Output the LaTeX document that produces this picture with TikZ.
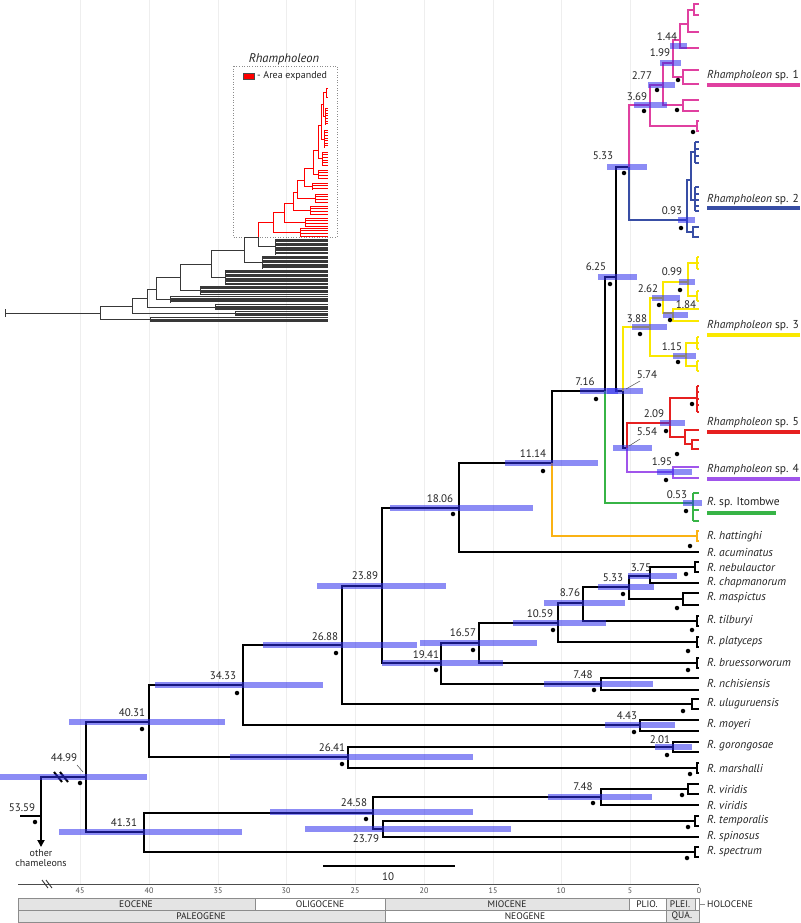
\documentclass[tikz,border=0pt]{standalone}
\usepackage{fontspec}
\setmainfont{PT Sans}
\usetikzlibrary{arrows.meta,calc}
\definecolor{hpdc}{RGB}{45,45,236}
\definecolor{pinkc}{RGB}{224,64,160}
\definecolor{bluec}{RGB}{56,78,165}
\definecolor{yelc}{RGB}{250,232,0}
\definecolor{redc}{RGB}{230,32,32}
\definecolor{purc}{RGB}{160,85,235}
\definecolor{grnc}{RGB}{55,180,70}
\definecolor{orac}{RGB}{250,178,20}
\definecolor{gridc}{RGB}{238,238,238}
\definecolor{epg}{RGB}{228,228,228}
\definecolor{txtc}{RGB}{35,35,35}
\tikzset{
 br/.style={line width=2.6pt},
 cl/.style={line width=2.2pt},
 hpd/.style={line width=5.5pt, draw=hpdc, draw opacity=0.55},
 age/.style={font=\fontsize{11}{13}\selectfont, text=txtc, inner sep=0pt},
 splab/.style={font=\fontsize{11.5}{13}\selectfont\itshape, text=txtc, anchor=west, inner sep=0pt},
 epo/.style={font=\fontsize{9.5}{11}\selectfont, text=txtc, inner sep=0pt},
 tick/.style={font=\fontsize{8}{9}\selectfont, text=black!70, inner sep=0pt},
 ins/.style={line width=0.6pt, draw=black!78},
 insr/.style={line width=0.6pt, draw=red},
 lead/.style={line width=0.5pt, draw=black!70},
}
\newcommand\hpdbar[3]{\draw[hpd] (#1,#3) -- (#2,#3);}
\newcommand\ndot[3]{\node[circle,fill=black,inner sep=0pt,minimum size=4.5pt] (#1) at (#2,#3) {};}
\newcommand\tipbrk[3]{\draw[#1] (699,#3-5) -| (#2,#3+5) -- (699,#3+5);}
\newcommand\combt[5]{\draw[#1] (#2,#3) -- (#2,#4); \foreach \cy in {#5} {\draw[#1] (#2,\cy) -- (699,\cy);}}
\newcommand\insgrp[5]{%
 \pgfmathtruncatemacro\insN{(#4-#3)/#5}%
 \foreach \ii in {0,...,\insN}{\pgfmathsetmacro\insY{#3+\ii*#5}\draw[#1] (#2,\insY) -- (328,\insY);}%
 \draw[#1] (#2,#3) -- (#2,#4);}
\begin{document}
\begin{tikzpicture}[x=1pt,y=-1pt]
\useasboundingbox (0,0) rectangle (800,923);
% grid
\foreach \gx in {80,149,218,286,355,424,493,561,630} {\draw[gridc,line width=0.6pt] (\gx,0) -- (\gx,884);}

% ================= inset tree =================
\draw[black!45, dotted, line width=0.6pt] (233,66) rectangle (337,237);
\node[font=\fontsize{12.5}{14}\selectfont\itshape, text=txtc, inner sep=0pt] (insttl) at (284,59) {Rhampholeon};
\draw[fill=red, draw=black!70, line width=0.4pt] (243,73) rectangle (254,79);
\node[font=\fontsize{10}{12}\selectfont, text=txtc, anchor=west, inner sep=0pt] (insleg) at (257,76) {- Area expanded};
% black backbone
\coordinate (ib0) at (5,313);
\coordinate (ib1) at (100,313);
\coordinate (ib2) at (132,306);
\coordinate (ib3) at (147,298);
\coordinate (ib4) at (156,289);
\coordinate (ib5) at (180,277);
\coordinate (ib6) at (211,264);
\coordinate (ib7) at (244,250);
\coordinate (ib8) at (258,237);
\draw[ins] (5,309) -- (5,317);
\draw[ins] (ib0) -- (ib1);
\draw[ins] (ib1) |- (ib2); \draw[ins] (ib1) |- (150,319.5);
\draw[ins] (ib2) |- (ib3); \draw[ins] (ib2) |- (235,313.5);
\draw[ins] (ib3) |- (ib4); \draw[ins] (ib3) |- (215,307);
\draw[ins] (ib4) |- (ib5); \draw[ins] (ib4) |- (170,299.5);
\draw[ins] (ib5) |- (ib6); \draw[ins] (ib5) |- (200,290.5);
\draw[ins] (ib6) |- (ib7); \draw[ins] (ib6) |- (225,277);
\draw[ins] (ib7) |- (ib8); \draw[ins] (ib7) |- (262,262.5);
\draw[ins] (ib8) |- (275,246.5);
\insgrp{ins}{150}{317.5}{322}{1.3}
\insgrp{ins}{235}{311.5}{316}{1.3}
\insgrp{ins}{215}{304.5}{310}{1.3}
\insgrp{ins}{170}{296.5}{303}{1.3}
\insgrp{ins}{200}{286}{295}{1.3}
\insgrp{ins}{225}{270}{284.5}{1.3}
\insgrp{ins}{262}{256}{268.5}{1.3}
\insgrp{ins}{275}{239}{254.5}{1.3}
% red clade
\coordinate (ir1) at (273,222);
\coordinate (ir2) at (284,212);
\coordinate (ir3) at (293,203);
\coordinate (ir4) at (297,192);
\coordinate (ir5) at (304,180);
\coordinate (ir6) at (313,168);
\coordinate (ir7) at (318,150);
\coordinate (ir8) at (321,125);
\coordinate (ir9) at (323,104);
\coordinate (ir10) at (326,92);
\draw[insr] (ib8) |- (ir1);
\draw[insr] (ir1) |- (ir2); \draw[insr] (ir1) |- (300,232);
\draw[insr] (ir2) |- (ir3); \draw[insr] (ir2) |- (305,222);
\draw[insr] (ir3) |- (ir4); \draw[insr] (ir3) |- (310,210);
\draw[insr] (ir4) |- (ir5); \draw[insr] (ir4) |- (315,198);
\draw[insr] (ir5) |- (ir6); \draw[insr] (ir5) |- (312,186);
\draw[insr] (ir6) |- (ir7); \draw[insr] (ir6) |- (318,174);
\draw[insr] (ir7) |- (ir8); \draw[insr] (ir7) |- (322,158);
\draw[insr] (ir8) |- (ir9); \draw[insr] (ir8) |- (324,139);
\draw[insr] (ir9) |- (ir10); \draw[insr] (ir9) |- (325,116);
\draw[insr] (ir10) |- (328,88); \draw[insr] (ir10) |- (328,97);
\insgrp{insr}{300}{228}{236}{2.6}
\insgrp{insr}{305}{218}{226}{2.6}
\insgrp{insr}{310}{206}{214}{2.6}
\insgrp{insr}{315}{194}{202}{2.6}
\insgrp{insr}{312}{183}{190}{2.4}
\insgrp{insr}{318}{170}{178}{2.6}
\insgrp{insr}{322}{152}{165}{2.6}
\insgrp{insr}{324}{130}{148}{2.6}
\insgrp{insr}{325}{108}{125}{2.6}

% ================= main tree coordinates =================
\coordinate (r0) at (41,816);
\coordinate (r0l) at (20,816);
\coordinate (r0d) at (41,847);
\coordinate (n4499) at (86,777);
\coordinate (n4031) at (149,722);
\coordinate (n4131) at (144,832);
\coordinate (n3433) at (243,685);
\coordinate (n2641) at (348,757);
\coordinate (n2688) at (342,645);
\coordinate (n443) at (640,725);
\coordinate (n2389) at (382,586);
\coordinate (bulu) at (692,704);
\coordinate (n1806) at (459,508);
\coordinate (n1941) at (441,663);
\coordinate (n1114) at (552,463);
\coordinate (tacu) at (699,552);
\coordinate (n716) at (605,391);
\coordinate (bhat) at (697,536);
\coordinate (n625) at (616,277);
\coordinate (n053) at (693,503);
\coordinate (n533a) at (629,167);
\coordinate (n574) at (623,391);
\coordinate (n369) at (650,105);
\coordinate (n093) at (687,220);
\coordinate (n388) at (650,327);
\coordinate (n554) at (627,448);
\coordinate (n209) at (670,423);
\coordinate (n195) at (673,472);
\coordinate (n1657) at (479,643);
\coordinate (n748a) at (601,684);
\coordinate (n1059) at (558,623);
\coordinate (bbru) at (697,663);
\coordinate (n876) at (583,603);
\coordinate (bpla) at (697,642);
\coordinate (n533b) at (629,587);
\coordinate (btil) at (697,621);
\coordinate (n375) at (650,576);
\coordinate (nmas) at (683,599);
\coordinate (bneb) at (695,567);
\coordinate (tcha) at (699,583);
\coordinate (n201) at (673,747);
\coordinate (bmar) at (697,768);
\coordinate (n2458) at (373,813);
\coordinate (bspe) at (695,852);
\coordinate (n748b) at (601,797);
\coordinate (n2379) at (383,829);
\coordinate (btem) at (695,821);
\coordinate (tspi) at (699,837);
\coordinate (nvir) at (688,789);
\coordinate (tvir) at (699,805);

% ================= black branches =================
\draw[br] (r0l) -- (r0);
\draw[br] (r0) |- (n4499);
\draw[br,-{Triangle[width=7pt,length=7pt]}] (r0) -- (r0d);
\draw[br] (n4499) |- (n4031);
\draw[br] (n4499) |- (n4131);
\draw[br] (n4031) |- (n3433);
\draw[br] (n4031) |- (n2641);
\draw[br] (n3433) |- (n2688);
\draw[br] (n3433) |- (n443);
\draw[br] (n2688) |- (n2389);
\draw[br] (n2688) |- (bulu);
\draw[br] (n2389) |- (n1806);
\draw[br] (n2389) |- (n1941);
\draw[br] (n1806) |- (n1114);
\draw[br] (n1806) |- (tacu);
\draw[br] (n1114) |- (n716);
\draw[br] (n716) |- (n625);
\draw[br] (n625) |- (n533a);
\draw[br] (n625) |- (n574);
\draw[br] (n574) |- (n554);
\draw[br] (n1941) |- (n1657);
\draw[br] (n1941) |- (n748a);
\draw[br] (n1657) |- (n1059);
\draw[br] (n1657) |- (bbru);
\draw[br] (n1059) |- (n876);
\draw[br] (n1059) |- (bpla);
\draw[br] (n876) |- (n533b);
\draw[br] (n876) |- (btil);
\draw[br] (n533b) |- (n375);
\draw[br] (n533b) |- (nmas);
\draw[br] (n375) |- (bneb);
\draw[br] (n375) |- (tcha);
\draw[br] (nmas) |- (699,593);
\draw[br] (nmas) |- (699,605);
\draw[br] (n748a) |- (699,678);
\draw[br] (n748a) |- (699,690);
\draw[br] (n443) |- (699,720);
\draw[br] (n443) |- (699,731);
\draw[br] (n2641) |- (n201);
\draw[br] (n2641) |- (bmar);
\draw[br] (n201) |- (699,742);
\draw[br] (n201) |- (699,752);
\draw[br] (n4131) |- (n2458);
\draw[br] (n4131) |- (bspe);
\draw[br] (n2458) |- (n748b);
\draw[br] (n2458) |- (n2379);
\draw[br] (n2379) |- (btem);
\draw[br] (n2379) |- (tspi);
\draw[br] (n748b) |- (nvir);
\draw[br] (n748b) |- (tvir);
\draw[br] (nvir) |- (699,784);
\draw[br] (nvir) |- (699,794);
\tipbrk{br}{692}{704}
\tipbrk{br}{695}{567}
\tipbrk{br}{697}{621}
\tipbrk{br}{697}{642}
\tipbrk{br}{697}{663}
\tipbrk{br}{697}{768}
\tipbrk{br}{695}{821}
\tipbrk{br}{695}{852}
% root break marks
\draw[line width=2pt] (54,772) -- (62,782);
\draw[line width=2pt] (60,772) -- (68,782);

% ================= coloured clades =================
\draw[br,orac] (n1114) |- (bhat);
\tipbrk{cl,orac}{697}{536}
\draw[cl,grnc] (n716) |- (n053);
\combt{cl,grnc}{693}{493}{521}{493,510,521}
% pink
\coordinate (n277) at (663,85);
\coordinate (n199) at (673,63);
\coordinate (n144) at (680,40);
\coordinate (pA) at (683,105);
\coordinate (pB) at (683,77);
\coordinate (pT) at (697,126);
\coordinate (pC) at (688,24);
\coordinate (pD) at (694,10);
\draw[cl,pinkc] (n533a) |- (n369);
\draw[cl,pinkc] (n369) |- (n277);
\draw[cl,pinkc] (n369) |- (pT);
\draw[cl,pinkc] (n277) |- (n199);
\draw[cl,pinkc] (n277) |- (pA);
\draw[cl,pinkc] (n199) |- (n144);
\draw[cl,pinkc] (n199) |- (pB);
\draw[cl,pinkc] (n144) |- (699,48);
\draw[cl,pinkc] (n144) |- (pC);
\draw[cl,pinkc] (pC) |- (pD);
\draw[cl,pinkc] (pC) |- (699,32);
\draw[cl,pinkc] (pD) |- (699,4);
\draw[cl,pinkc] (pD) |- (699,15);
\draw[cl,pinkc] (pA) |- (699,100);
\draw[cl,pinkc] (pA) |- (699,111);
\draw[cl,pinkc] (pB) |- (699,70);
\draw[cl,pinkc] (pB) |- (699,84);
\tipbrk{cl,pinkc}{697}{126}
% blue
\coordinate (bU) at (691,180);
\coordinate (bU1) at (695,152);
\coordinate (bU2) at (695,200);
\coordinate (bL) at (693,232);
\draw[cl,bluec] (n533a) |- (n093);
\draw[cl,bluec] (n093) |- (bU);
\draw[cl,bluec] (n093) |- (bL);
\draw[cl,bluec] (bU) |- (bU1);
\draw[cl,bluec] (bU) |- (bU2);
\combt{cl,bluec}{695}{142}{163}{142,149,156,163}
\combt{cl,bluec}{695}{187}{211}{187,194,200,206,211}
\draw[cl,bluec] (bL) |- (699,227);
\draw[cl,bluec] (bL) |- (699,237);
% yellow
\coordinate (n262) at (663,298);
\coordinate (n099) at (688,282);
\coordinate (n184) at (673,313);
\coordinate (n115) at (686,356);
\coordinate (yc1) at (697,263);
\coordinate (yc2) at (697,296);
\coordinate (yc3) at (697,343);
\coordinate (yc4) at (697,366);
\draw[cl,yelc] (n574) |- (n388);
\draw[cl,yelc] (n388) |- (n262);
\draw[cl,yelc] (n388) |- (n115);
\draw[cl,yelc] (n262) |- (n099);
\draw[cl,yelc] (n262) |- (n184);
\draw[cl,yelc] (n099) |- (yc1);
\draw[cl,yelc] (n099) |- (yc2);
\draw[cl,yelc] (n184) |- (699,309);
\draw[cl,yelc] (n184) |- (699,321);
\draw[cl,yelc] (n115) |- (yc3);
\draw[cl,yelc] (n115) |- (yc4);
\combt{cl,yelc}{697}{257}{269}{257,263,269}
\combt{cl,yelc}{697}{291}{301}{291,301}
\combt{cl,yelc}{697}{337}{349}{337,343,349}
\combt{cl,yelc}{697}{361}{371}{361,371}
% red
\coordinate (rU) at (697,398);
\coordinate (rL) at (685,437);
\coordinate (rL2) at (692,444);
\draw[cl,redc] (n554) |- (n209);
\draw[cl,redc] (n209) |- (rU);
\draw[cl,redc] (n209) |- (rL);
\combt{cl,redc}{697}{386}{412}{386,392,399,405,412}
\draw[cl,redc] (rL) |- (699,430);
\draw[cl,redc] (rL) |- (rL2);
\draw[cl,redc] (rL2) |- (699,440);
\draw[cl,redc] (rL2) |- (699,449);
% purple
\draw[cl,purc] (n554) |- (n195);
\draw[cl,purc] (n195) |- (699,467);
\draw[cl,purc] (n195) |- (699,478);

% ================= HPD bars =================
\hpdbar{0}{147}{777}
\hpdbar{69}{225}{722}
\hpdbar{155}{323}{685}
\hpdbar{263}{417}{645}
\hpdbar{230}{473}{757}
\hpdbar{59}{242}{832}
\hpdbar{270}{473}{812}
\hpdbar{305}{511}{829}
\hpdbar{317}{446}{586}
\hpdbar{382}{503}{663}
\hpdbar{390}{533}{508}
\hpdbar{420}{537}{643}
\hpdbar{505}{598}{463}
\hpdbar{513}{606}{623}
\hpdbar{544}{625}{603}
\hpdbar{544}{653}{684}
\hpdbar{548}{652}{797}
\hpdbar{580}{618}{391}
\hpdbar{598}{637}{277}
\hpdbar{607}{643}{391}
\hpdbar{613}{652}{448}
\hpdbar{607}{647}{167}
\hpdbar{598}{654}{587}
\hpdbar{605}{675}{725}
\hpdbar{632}{667}{327}
\hpdbar{628}{677}{576}
\hpdbar{634}{667}{105}
\hpdbar{648}{675}{85}
\hpdbar{652}{680}{298}
\hpdbar{660}{685}{423}
\hpdbar{655}{692}{747}
\hpdbar{660}{681}{63}
\hpdbar{657}{692}{472}
\hpdbar{663}{688}{315}
\hpdbar{670}{687}{46}
\hpdbar{673}{696}{356}
\hpdbar{679}{695}{282}
\hpdbar{678}{695}{220}
\hpdbar{683}{702}{503}

% ================= dots =================
\ndot{d1}{35}{822}
\ndot{d2}{80}{783}
\ndot{d3}{142}{729}
\ndot{d4}{237}{693}
\ndot{d5}{336}{653}
\ndot{d6}{342}{764}
\ndot{d7}{366}{819}
\ndot{d8}{436}{670}
\ndot{d9}{453}{514}
\ndot{d10}{473}{650}
\ndot{d11}{543}{471}
\ndot{d12}{553}{630}
\ndot{d13}{594}{690}
\ndot{d14}{593}{803}
\ndot{d15}{596}{399}
\ndot{d16}{610}{284}
\ndot{d17}{624}{173}
\ndot{d18}{623}{594}
\ndot{d19}{634}{732}
\ndot{d20}{640}{334}
\ndot{d21}{644}{111}
\ndot{d22}{657}{90}
\ndot{d23}{659}{305}
\ndot{d24}{666}{431}
\ndot{d25}{667}{755}
\ndot{d26}{666}{480}
\ndot{d27}{670}{320}
\ndot{d28}{678}{362}
\ndot{d29}{680}{290}
\ndot{d30}{681}{228}
\ndot{d31}{686}{511}
\ndot{d32}{683}{711}
\ndot{d33}{686}{574}
\ndot{d34}{677}{608}
\ndot{d35}{692}{630}
\ndot{d36}{688}{651}
\ndot{d37}{688}{670}
\ndot{d38}{690}{546}
\ndot{d39}{690}{774}
\ndot{d40}{682}{795}
\ndot{d41}{688}{827}
\ndot{d42}{687}{858}
\ndot{d43}{692}{404}
\ndot{d44}{677}{454}
\ndot{d45}{693}{132}
\ndot{d46}{677}{110}
\ndot{d47}{678}{80}

% ================= age labels =================
\node[age] (a5359) at (22,808) {53.59};
\node[age] (a4499) at (64,758) {44.99};
\draw[lead] (77,765) -- (83,772);
\node[age] (a4031) at (132,713) {40.31};
\node[age] (a4131) at (124,823) {41.31};
\node[age] (a3433) at (223,676) {34.33};
\node[age] (a2688) at (325,637) {26.88};
\node[age] (a2641) at (332,748) {26.41};
\node[age] (a2458) at (354,803) {24.58};
\node[age] (a2379) at (366,839) {23.79};
\node[age] (a2389) at (365,576) {23.89};
\node[age] (a1941) at (426,655) {19.41};
\node[age] (a1806) at (440,499) {18.06};
\node[age] (a1657) at (463,633) {16.57};
\node[age] (a1114) at (533,454) {11.14};
\node[age] (a1059) at (540,614) {10.59};
\node[age] (a876) at (570,593) {8.76};
\node[age] (a748a) at (583,675) {7.48};
\node[age] (a748b) at (583,787) {7.48};
\node[age] (a716) at (585,382) {7.16};
\node[age] (a625) at (596,267) {6.25};
\node[age] (a574) at (647,375) {5.74};
\draw[lead] (640,381) -- (626,389);
\node[age] (a554) at (647,432) {5.54};
\draw[lead] (640,439) -- (629,446);
\node[age] (a533a) at (603,156) {5.33};
\node[age] (a533b) at (613,578) {5.33};
\node[age] (a443) at (627,716) {4.43};
\node[age] (a388) at (637,319) {3.88};
\node[age] (a375) at (641,568) {3.75};
\node[age] (a369) at (637,97) {3.69};
\node[age] (a277) at (642,76) {2.77};
\node[age] (a262) at (648,289) {2.62};
\node[age] (a209) at (654,414) {2.09};
\node[age] (a201) at (660,740) {2.01};
\node[age] (a199) at (660,53) {1.99};
\node[age] (a195) at (662,462) {1.95};
\node[age] (a184) at (686,305) {1.84};
\node[age] (a144) at (667,37) {1.44};
\node[age] (a115) at (672,347) {1.15};
\node[age] (a099) at (672,272) {0.99};
\node[age] (a093) at (672,211) {0.93};
\node[age] (a053) at (677,495) {0.53};

% ================= species labels =================
\node[splab] (s1) at (707,76) {Rhampholeon\/ \upshape sp. 1};
\draw[pinkc,line width=3.5pt] (707,85) -- (800,85);
\node[splab] (s2) at (707,200) {Rhampholeon\/ \upshape sp. 2};
\draw[bluec,line width=3.5pt] (707,208) -- (800,208);
\node[splab] (s3) at (707,326) {Rhampholeon\/ \upshape sp. 3};
\draw[yelc,line width=3.5pt] (707,335) -- (800,335);
\node[splab] (s5) at (707,423) {Rhampholeon\/ \upshape sp. 5};
\draw[redc,line width=3.5pt] (707,432) -- (800,432);
\node[splab] (s4) at (707,470) {Rhampholeon\/ \upshape sp. 4};
\draw[purc,line width=3.5pt] (707,479) -- (800,479);
\node[splab] (s6) at (707,503) {R.\/ \upshape sp. Itombwe};
\draw[grnc,line width=3.5pt] (707,513) -- (776,513);
\node[splab] (s7) at (707,537) {R. hattinghi};
\node[splab] (s8) at (707,552) {R. acuminatus};
\node[splab] (s9) at (707,567) {R. nebulauctor};
\node[splab] (s10) at (707,583) {R. chapmanorum};
\node[splab] (s11) at (707,598) {R. maspictus};
\node[splab] (s12) at (707,621) {R. tilburyi};
\node[splab] (s13) at (707,642) {R. platyceps};
\node[splab] (s14) at (707,662) {R. bruessorworum};
\node[splab] (s15) at (707,683) {R. nchisiensis};
\node[splab] (s16) at (707,704) {R. uluguruensis};
\node[splab] (s17) at (707,725) {R. moyeri};
\node[splab] (s18) at (707,746) {R. gorongosae};
\node[splab] (s19) at (707,768) {R. marshalli};
\node[splab] (s20) at (707,789) {R. viridis};
\node[splab] (s21) at (707,805) {R. viridis};
\node[splab] (s22) at (707,821) {R. temporalis};
\node[splab] (s23) at (707,837) {R. spinosus};
\node[splab] (s24) at (707,852) {R. spectrum};

% other chameleons
\node[font=\fontsize{10}{10}\selectfont, text=txtc, align=center, anchor=north, inner sep=0pt] (oth) at (41,849) {other\\chameleons};

% scale bar
\draw[line width=2.6pt] (323,866) -- (455,866);
\node[font=\fontsize{11}{13}\selectfont, text=txtc, inner sep=0pt] (sc10) at (388,877) {10};

% ================= time axis =================
\draw[line width=0.8pt, black!70] (18,884) -- (699,884);
\draw[line width=0.9pt, black!80] (42,880) -- (48,888);
\draw[line width=0.9pt, black!80] (46,880) -- (52,888);
\foreach \tt/\tx in {45/80,40/149,35/218,30/286,25/355,20/424,15/493,10/561,5/630,0/699} {\node[tick] at (\tx,891) {\tt};}
\tikzset{ebox/.style={draw=black!45, line width=0.6pt}}
\draw[ebox, fill=epg] (18,898) rectangle (255,910);
\draw[ebox, fill=white] (255,898) rectangle (385,910);
\draw[ebox, fill=epg] (385,898) rectangle (629,910);
\draw[ebox, fill=white] (629,898) rectangle (666,910);
\draw[ebox, fill=epg] (666,898) rectangle (695,910);
\draw[ebox, fill=white] (695,898) rectangle (699,910);
\draw[ebox, fill=epg] (18,910) rectangle (385,922);
\draw[ebox, fill=white] (385,910) rectangle (666,922);
\draw[ebox, fill=epg] (666,910) rectangle (699,922);
\node[epo] (eeo) at (136,904) {EOCENE};
\node[epo] (eol) at (320,904) {OLIGOCENE};
\node[epo] (emi) at (507,904) {MIOCENE};
\node[epo] (epl) at (647,904) {PLIO.};
\node[epo] (ept) at (680,904) {PLEI.};
\node[epo] (epa) at (201,916) {PALEOGENE};
\node[epo] (ene) at (525,916) {NEOGENE};
\node[epo] (equ) at (682,916) {QUA.};
\draw[black!45, line width=0.6pt] (699,904) -- (705,904);
\node[epo, anchor=west] (eho) at (707,904) {HOLOCENE};
\end{tikzpicture}
\end{document}
